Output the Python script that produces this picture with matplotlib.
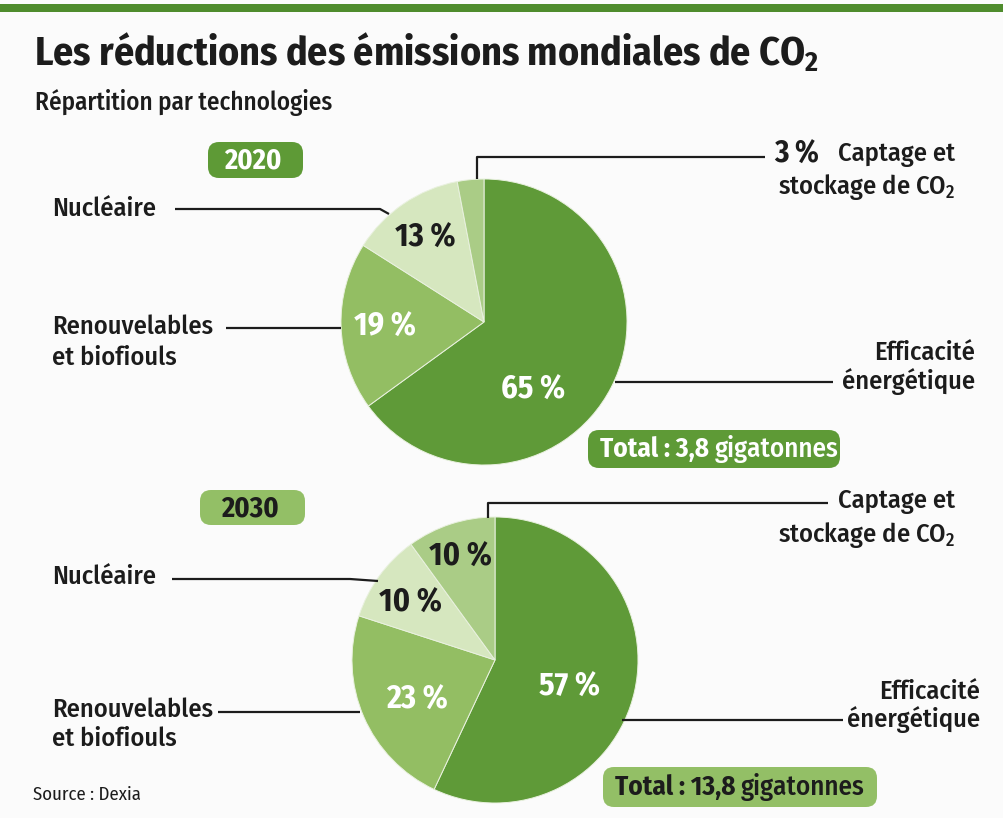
import matplotlib
matplotlib.use("Agg")
import matplotlib.pyplot as plt
from matplotlib import font_manager as fm
from matplotlib.patches import FancyBboxPatch

# pick a condensed humanist face if one is installed
available = {f.name for f in fm.fontManager.ttflist}
FONT = next((f for f in ["Fira Sans Condensed", "PT Sans Narrow", "Open Sans Condensed",
                         "Liberation Sans Narrow", "Noto Sans"] if f in available), "DejaVu Sans")
plt.rcParams["font.family"] = [FONT, "DejaVu Sans"]
plt.rcParams["mathtext.fontset"] = "custom"
plt.rcParams["mathtext.rm"] = FONT + ":medium"
plt.rcParams["mathtext.bf"] = FONT + ":bold"

# data
technologies = ["Efficacité\nénergétique", "Renouvelables\net biofiouls",
                "Nucléaire", "Captage et\nstockage de CO$_2$"]
years = ["2020", "2030"]
shares_2020 = [65, 19, 13, 3]
shares_2030 = [57, 23, 10, 10]
totals = ["3,8", "13,8"]

slice_colors = ["#5f9a38", "#93be63", "#d6e7bf", "#aacc86"]
DARK = "#1c1c1c"
BG = "#fbfbfb"
LBL = 19

fig = plt.figure(figsize=(10.04, 8.18), dpi=100, facecolor=BG)
ax = fig.add_axes([0, 0, 1, 1])
ax.set_facecolor(BG)


def line(xs, ys):
    ax.plot(xs, ys, color=DARK, lw=1.6, solid_capstyle="butt", zorder=3)


def badge(x0, y0, x1, y1, color):
    ax.add_patch(FancyBboxPatch((x0, y0), x1 - x0, y1 - y0,
                                boxstyle="round,pad=0,rounding_size=11",
                                fc=color, ec="none", zorder=2))


def label(x, y, s, ha="left", **kw):
    ax.text(x, y, s, fontsize=LBL, fontweight="medium", color=DARK,
            ha=ha, va="center", **kw)


# top bar and titles
ax.add_patch(plt.Rectangle((0, 4), 1004, 8, fc="#4f8c2d", ec="none"))
ax.text(34, 52, "Les réductions des émissions mondiales de CO$_\\mathbf{2}$",
        fontsize=28.7, fontweight="bold", color=DARK, va="center", ha="left")
ax.text(35, 102, "Répartition par technologies", fontsize=18, fontweight="medium",
        color=DARK, va="center", ha="left")

# per-chart layout: pie centre, badges, label positions
layouts = [
    dict(values=shares_2020, center=(484, 322), year_box=(208, 142, 303, 178),
         year_fc="#5e9a36", year_tc="white",
         total_box=(588, 430, 840, 468), total_fc="#5e9a36", total_tc="white",
         pct_pos=[(533, 390), (385, 327), (425, 238), None],
         pct_col=["white", "white", DARK, DARK],
         nuc_y=209, nuc_line=([175, 380, 389], [209, 209, 214]),
         ren_y=(327, 358), ren_line=([226, 341], [328, 328]),
         eff_y=(353, 382), eff_x=975, eff_line=([615, 833], [382, 382]),
         ccs_line=([477, 477, 765], [179, 157, 157]), ccs_y=(155, 187)),
    dict(values=shares_2030, center=(495, 660), year_box=(200, 490, 305, 525),
         year_fc="#93bf66", year_tc=DARK,
         total_box=(603, 767, 877, 807), total_fc="#93bf66", total_tc=DARK,
         pct_pos=[(570, 687), (417, 700), (410, 603), (460, 557)],
         pct_col=["white", "white", DARK, DARK],
         nuc_y=577, nuc_line=([172, 350, 378], [579, 579, 581]),
         ren_y=(710, 739), ren_line=([218, 360], [712, 712]),
         eff_y=(692, 720), eff_x=980, eff_line=([622, 843], [720, 720]),
         ccs_line=([488, 488, 828], [518, 503, 503]), ccs_y=(502, 535)),
]

for year, total, lay in zip(years, totals, layouts):
    vals = lay["values"]
    ax.pie(vals, colors=slice_colors, startangle=270, counterclock=True,
           center=lay["center"], radius=143,
           wedgeprops=dict(edgecolor="#e9f1df", linewidth=0.7))

    # year badge
    x0, y0, x1, y1 = lay["year_box"]
    badge(x0, y0, x1, y1, lay["year_fc"])
    ax.text((x0 + x1) / 2 - 3, (y0 + y1) / 2 + 1, year, fontsize=20.5,
            fontweight="bold", color=lay["year_tc"], ha="center", va="center", zorder=4)

    # total badge
    x0, y0, x1, y1 = lay["total_box"]
    badge(x0, y0, x1, y1, lay["total_fc"])
    t = ax.text(x0 + 12, (y0 + y1) / 2, "Total : " + total + " ", fontsize=19.5,
                fontweight="bold", color=lay["total_tc"], ha="left", va="center", zorder=4)
    ax.annotate("gigatonnes", xycoords=t, xy=(1, 0.5), va="center", ha="left",
                fontsize=19.5, fontweight="medium", color=lay["total_tc"], zorder=4)

    # percentages in slices
    for v, pos, col in zip(vals, lay["pct_pos"], lay["pct_col"]):
        if pos is None:
            continue
        ax.text(pos[0], pos[1], f"{v} %", fontsize=23, fontweight="bold",
                color=col, ha="center", va="center", zorder=4)

    # left labels
    label(52, lay["nuc_y"], technologies[2])
    line(*lay["nuc_line"])
    ren1, ren2 = technologies[1].split("\n")
    label(52, lay["ren_y"][0], ren1)
    label(52, lay["ren_y"][1], ren2)
    line(*lay["ren_line"])

    # right labels
    eff1, eff2 = technologies[0].split("\n")
    label(lay["eff_x"], lay["eff_y"][0], eff1, ha="right")
    label(lay["eff_x"], lay["eff_y"][1], eff2, ha="right")
    line(*lay["eff_line"])

    ccs1, ccs2 = technologies[3].split("\n")
    label(955, lay["ccs_y"][0], ccs1, ha="right")
    label(955, lay["ccs_y"][1], ccs2, ha="right")
    line(*lay["ccs_line"])
    if lay["pct_pos"][3] is None:
        ax.text(774, lay["ccs_y"][0], f"{vals[3]} %", fontsize=22, fontweight="bold",
                color=DARK, ha="left", va="center")

ax.text(33, 795, "Source : Dexia", fontsize=13.5, fontweight="normal", color=DARK,
        ha="left", va="center")

ax.set_xlim(0, 1004)
ax.set_ylim(818, 0)
ax.axis("off")

fig.savefig("out.png", dpi=100, facecolor=BG)
